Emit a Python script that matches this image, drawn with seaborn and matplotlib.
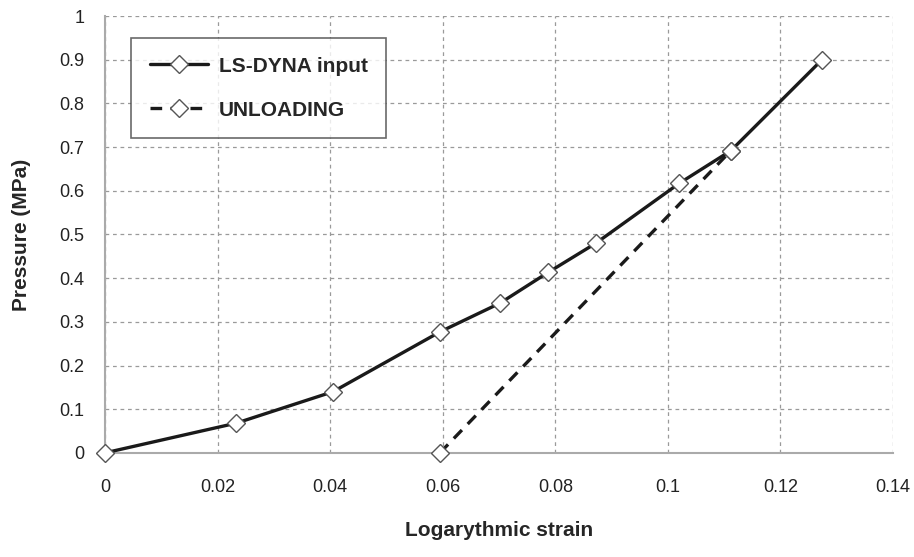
import matplotlib
matplotlib.use("Agg")
import matplotlib.pyplot as plt
import seaborn as sns
import pandas as pd

# loading curve (LS-DYNA input)
strain_load = [0.0, 0.0233, 0.0405, 0.0595, 0.0702, 0.0787, 0.0872, 0.102, 0.1112, 0.1273]
pressure_load = [0.0, 0.068, 0.14, 0.277, 0.343, 0.413, 0.48, 0.617, 0.692, 0.899]

# unloading line
strain_unload = [0.0595, 0.1112]
pressure_unload = [0.0, 0.692]

x_ticks = [0, 0.02, 0.04, 0.06, 0.08, 0.1, 0.12, 0.14]
x_labels = ["0", "0.02", "0.04", "0.06", "0.08", "0.1", "0.12", "0.14"]
y_ticks = [0, 0.1, 0.2, 0.3, 0.4, 0.5, 0.6, 0.7, 0.8, 0.9, 1]
y_labels = ["0", "0.1", "0.2", "0.3", "0.4", "0.5", "0.6", "0.7", "0.8", "0.9", "1"]

sns.set_style("white")
plt.rcParams['font.family'] = ['Liberation Sans Narrow', 'Liberation Sans', 'DejaVu Sans']

df_load = pd.DataFrame({"strain": strain_load, "pressure": pressure_load})
df_unload = pd.DataFrame({"strain": strain_unload, "pressure": pressure_unload})

fig, ax = plt.subplots(figsize=(9.14, 5.57), dpi=100)
fig.subplots_adjust(left=0.115, right=0.977, top=0.971, bottom=0.187)

mk = dict(marker="D", markersize=9, markerfacecolor="white", markeredgecolor="#555555",
          markeredgewidth=1.0, clip_on=False, zorder=5)
sns.lineplot(data=df_load, x="strain", y="pressure", ax=ax, color="#1a1a1a", linewidth=2.4,
             label="LS-DYNA input", sort=False, **mk)
sns.lineplot(data=df_unload, x="strain", y="pressure", ax=ax, color="#1a1a1a", linewidth=2.4,
             linestyle=(0, (3.5, 2.5)), label="UNLOADING", sort=False, **mk)

ax.set_xlim(0, 0.14)
ax.set_ylim(0, 1)
ax.set_xticks(x_ticks)
ax.set_xticklabels(x_labels)
ax.set_yticks(y_ticks)
ax.set_yticklabels(y_labels)
ax.grid(True, color="#9a9a9a", linestyle=(0, (3, 3)), linewidth=0.9)
ax.set_axisbelow(True)

for s in ["top", "right"]:
    ax.spines[s].set_visible(False)
for s in ["left", "bottom"]:
    ax.spines[s].set_color("#aaaaaa")
    ax.spines[s].set_linewidth(1.5)
ax.tick_params(axis="both", direction="out", length=5, color="#aaaaaa", labelsize=13,
               labelcolor="#222222", pad=14)
ax.tick_params(axis="y", pad=10)

ax.set_xlabel("Logarythmic strain", fontsize=15, fontweight="bold", labelpad=18)
ax.set_ylabel("Pressure (MPa)", fontsize=15, fontweight="bold", labelpad=20)

leg = ax.legend(loc="upper left", bbox_to_anchor=(0.033, 0.95), borderaxespad=0, frameon=True,
                fancybox=False, prop={"size": 15, "weight": "bold"}, handlelength=2.8,
                handletextpad=0.5, borderpad=0.9, labelspacing=1.2)
leg.get_frame().set_edgecolor("#444444")
leg.get_frame().set_linewidth(1.2)

fig.savefig("out.png", dpi=100)
